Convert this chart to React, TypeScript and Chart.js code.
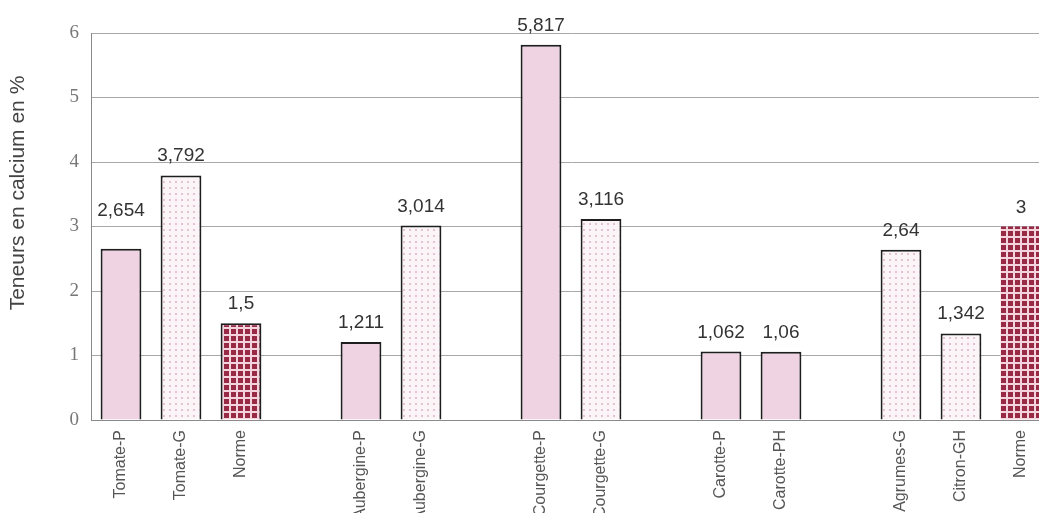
import { useEffect, useRef } from 'react';
import { Chart, registerables } from 'chart.js';

Chart.register(...registerables);

// Calcium content (%) per sample; empty slots separate the product groups.
const categories = [
  'Tomate-P', 'Tomate-G', 'Norme', '',
  'Aubergine-P', 'Aubergine-G', '',
  'Courgette-P', 'Courgette-G', '',
  'Carotte-P', 'Carotte-PH', '',
  'Agrumes-G', 'Citron-GH', 'Norme',
];
const calcium: (number | null)[] = [
  2.654, 3.792, 1.5, null,
  1.211, 3.014, null,
  5.817, 3.116, null,
  1.062, 1.06, null,
  2.64, 1.342, 3,
];
// P = petit (plain pink), G = gros (dotted), N = norme (red grid)
const sampleKinds = [
  'P', 'G', 'N', '',
  'P', 'G', '',
  'P', 'G', '',
  'P', 'P', '',
  'G', 'G', 'N',
];
const yTicks = [0, 1, 2, 3, 4, 5, 6];

const SANS = '"Liberation Sans", Arial, sans-serif';
const SERIF = '"Liberation Serif", "Times New Roman", serif';

function tile(size: number, draw: (c: CanvasRenderingContext2D) => void) {
  const cv = document.createElement('canvas');
  cv.width = size;
  cv.height = size;
  const c = cv.getContext('2d')!;
  draw(c);
  return c.createPattern(cv, 'repeat')!;
}

function fillFor(kind: string): string | CanvasPattern {
  if (kind === 'G') {
    return tile(6, (c) => {
      c.fillStyle = '#fbf5f8';
      c.fillRect(0, 0, 6, 6);
      c.fillStyle = '#e4c4d4';
      c.fillRect(1, 1, 2, 2);
    });
  }
  if (kind === 'N') {
    return tile(7, (c) => {
      c.fillStyle = '#f2d3de';
      c.fillRect(0, 0, 7, 7);
      c.fillStyle = '#982a46';
      c.fillRect(0, 0, 5, 5);
    });
  }
  return '#efd3e3';
}

const fmt = (v: number) => String(v).replace('.', ',');

// Extra lift for value labels that sit higher than the rest
const labelExtraLift: Record<number, number> = { 0: 19 };

const annotate = {
  id: 'annotate',
  afterDatasetsDraw(chart: Chart) {
    const { ctx } = chart;
    const meta = chart.getDatasetMeta(0);
    ctx.save();
    ctx.font = `19px ${SANS}`;
    ctx.fillStyle = '#333';
    ctx.textAlign = 'center';
    ctx.textBaseline = 'alphabetic';
    meta.data.forEach((el: any, i: number) => {
      const v = calcium[i];
      if (v == null) return;
      const lift = 14 + (labelExtraLift[i] || 0);
      ctx.fillText(fmt(v), el.x, el.y - lift);
    });
    // y-axis title
    ctx.translate(18, 193);
    ctx.rotate(-Math.PI / 2);
    ctx.font = `21px ${SANS}`;
    ctx.fillStyle = '#444';
    ctx.textBaseline = 'middle';
    ctx.fillText('Teneurs en calcium en %', 0, 0);
    ctx.restore();
  },
};

export default function App() {
  const ref = useRef<HTMLCanvasElement>(null);

  useEffect(() => {
    const fills = sampleKinds.map((k) => fillFor(k));
    const borders = sampleKinds.map((_, i) => (i === sampleKinds.length - 1 ? 0 : 2));
    const chart = new Chart(ref.current!, {
      type: 'bar',
      data: {
        labels: categories,
        datasets: [
          {
            data: calcium,
            backgroundColor: fills as any,
            borderColor: '#1e1e1e',
            borderWidth: borders,
            borderSkipped: 'bottom',
            barPercentage: 0.68,
            categoryPercentage: 1,
          },
        ],
      },
      options: {
        animation: false,
        responsive: true,
        maintainAspectRatio: false,
        layout: { padding: { top: 33, right: 9, left: 0, bottom: 0 } },
        plugins: { legend: { display: false }, tooltip: { enabled: false } },
        scales: {
          x: {
            grid: { display: false, drawTicks: false },
            border: { color: '#8a8a8a', width: 1 },
            ticks: {
              autoSkip: false,
              minRotation: 90,
              maxRotation: 90,
              padding: 10,
              color: '#555',
              font: { family: SANS, size: 16 },
            },
            afterFit: (s: any) => {
              s.height = 93;
            },
          },
          y: {
            min: 0,
            max: 6,
            afterBuildTicks: (s: any) => {
              s.ticks = yTicks.map((v) => ({ value: v }));
            },
            grid: { color: '#a8a8a8', lineWidth: 1, drawTicks: false },
            border: { color: '#8a8a8a', width: 1 },
            ticks: {
              padding: 12,
              color: '#777',
              font: { family: SERIF, size: 19 },
            },
            afterFit: (s: any) => {
              s.width = 91;
            },
          },
        },
      },
      plugins: [annotate],
    });
    return () => chart.destroy();
  }, []);

  return (
    <div
      style={{
        position: 'absolute',
        left: 0,
        top: 0,
        width: 1039,
        height: 513,
        overflow: 'hidden',
        background: '#fff',
      }}
    >
      <div style={{ position: 'relative', width: 1060, height: 513 }}>
        <canvas ref={ref} />
      </div>
    </div>
  );
}
